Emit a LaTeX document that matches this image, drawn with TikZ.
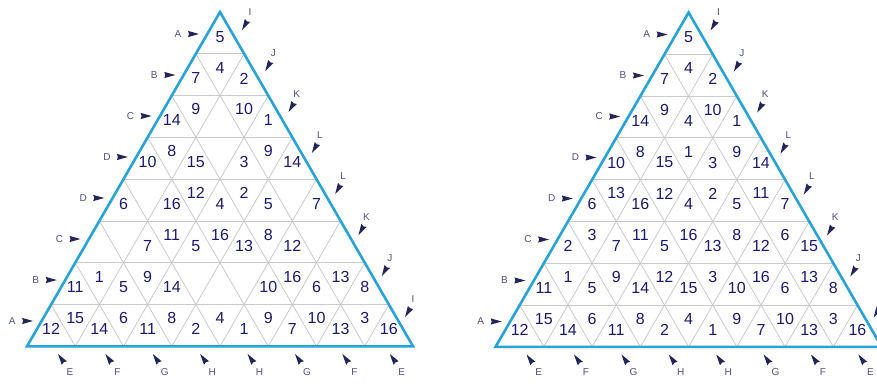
\documentclass[tikz,border=0pt]{standalone}
\usepackage{fontspec}
\setmainfont{Liberation Sans}
\definecolor{numc}{RGB}{28,26,108}
\definecolor{labc}{RGB}{80,80,125}
\definecolor{arrc}{RGB}{36,36,88}
\definecolor{edgec}{RGB}{40,163,214}
\definecolor{gridc}{RGB}{202,202,202}
\def\S{386}\def\H{334.3}
\newcommand\drawtri[7]{%
 % #1 prefix, #2 apex x, #3 apex y, #4 rows, #5 left labels, #6 right labels, #7 bottom labels
 \begin{scope}[shift={(#2,#3)}]
  \coordinate (#1apex) at (0,0);
  \coordinate (#1bl) at ({-\S/2},\H);
  \coordinate (#1br) at ({\S/2},\H);
  \foreach \k in {1,...,7} {
    \draw[gridline] ({-\k*\S/16},{\k*\H/8}) -- ({\k*\S/16},{\k*\H/8});
    \draw[gridline] ({\k*\S/16},{\k*\H/8}) -- ({-\S/2+\k*\S/8},\H);
    \draw[gridline] ({-\k*\S/16},{\k*\H/8}) -- ({\S/2-\k*\S/8},\H);
  }
  \draw[outline] (#1apex) -- (#1bl) -- (#1br) -- cycle;
  \foreach \r/\vals in {#4} {
    \foreach \v [count=\k] in \vals {
      \ifnum\v=0\relax\else
        \pgfmathsetmacro\xx{(\k-\r)*\S/16}
        \pgfmathsetmacro\yy{isodd(\k) ? (\r-0.41)*\H/8 : (\r-0.67)*\H/8}
        \node[num] (#1n\r-\k) at (\xx,\yy) {\v};
      \fi
    }
  }
  \foreach \t [count=\r] in {#5} {
    \node[lab] (#1a\r) at ({-42-(\r-1)*23.7},{22+(\r-1)*41}) {\t};
    \fill[marker, shift={({-21-(\r-1)*23.7},{22+(\r-1)*41})}, rotate=0] (0,0) -- (-11,3.1) -- (-10,0) -- (-11,-3.1) -- cycle;
  }
  \foreach \t [count=\r] in {#6} {
    \node[lab] (#1b\r) at ({30+(\r-1)*23.3},{(\r-1)*41}) {\t};
    \fill[marker, shift={({22+(\r-1)*23.3},{18+(\r-1)*41})}, rotate=240] (0,0) -- (-11,3.1) -- (-10,0) -- (-11,-3.1) -- cycle;
  }
  \foreach \t [count=\r] in {#7} {
    \node[lab] (#1c\r) at ({-150+(\r-1)*47.4},360) {\t};
    \fill[marker, shift={({-162+(\r-1)*47.4},342)}, rotate=125] (0,0) -- (-11,3.1) -- (-10,0) -- (-11,-3.1) -- cycle;
  }
 \end{scope}}
\begin{document}
\begin{tikzpicture}[x=1pt,y=-1pt,
 num/.style={font=\fontsize{16}{16}\selectfont, text=numc, inner sep=0pt},
 lab/.style={font=\fontsize{10}{10}\selectfont, text=labc, inner sep=0pt},
 gridline/.style={draw=gridc, line width=0.8pt},
 outline/.style={draw=edgec, line width=2.6pt, line join=miter},
 marker/.style={fill=arrc}]
\useasboundingbox (0,0) rectangle (877,383);
\clip (0,0) rectangle (877,383);
\fill[white] (0,0) rectangle (877,383);
\drawtri{L}{220}{12}{1/{5},2/{7,4,2},3/{14,9,0,10,1},4/{10,8,15,0,3,9,14},5/{6,0,16,12,4,2,5,0,7},6/{0,0,7,11,5,16,13,8,12,0,0},7/{11,1,5,9,14,0,0,0,10,16,6,13,8},8/{12,15,14,6,11,8,2,4,1,9,7,10,13,3,16}}{A,B,C,D,D,C,B,A}{I,J,K,L,L,K,J,I}{E,F,G,H,H,G,F,E}
\drawtri{R}{688.6}{12.5}{1/{5},2/{7,4,2},3/{14,9,4,10,1},4/{10,8,15,1,3,9,14},5/{6,13,16,12,4,2,5,11,7},6/{2,3,7,11,5,16,13,8,12,6,15},7/{11,1,5,9,14,12,15,3,10,16,6,13,8},8/{12,15,14,6,11,8,2,4,1,9,7,10,13,3,16}}{A,B,C,D,D,C,B,A}{I,J,K,L,L,K,J,{}}{E,F,G,H,H,G,F,E}
\end{tikzpicture}
\end{document}
